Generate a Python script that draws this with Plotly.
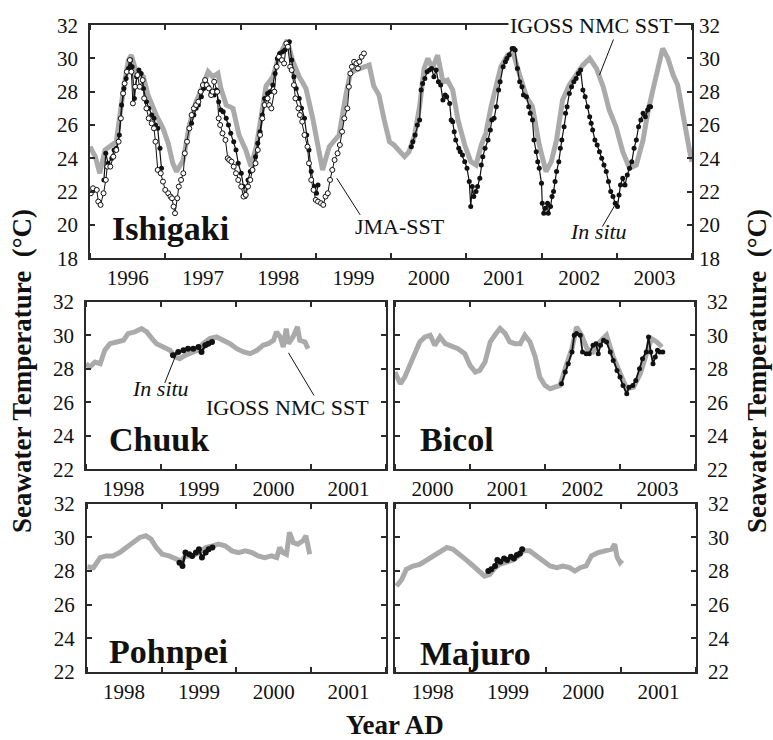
import plotly.graph_objects as go

W, H = 773, 740
SERIF = "Liberation Serif, Times New Roman, serif"
GRAY = "#aaaaaa"
INK = "#111111"
FRAME = "#2a2a2a"

# ---------------- Ishigaki (1996-2003) ----------------
ish_igoss_t = [1996.00, 1996.07, 1996.13, 1996.20, 1996.29, 1996.35, 1996.44, 1996.51, 1996.55, 1996.62,
               1996.71, 1996.77, 1996.88, 1996.97, 1997.04, 1997.10, 1997.15, 1997.24, 1997.32, 1997.41,
               1997.50, 1997.57, 1997.63, 1997.70, 1997.74, 1997.81, 1997.90, 1997.98, 1998.07, 1998.14,
               1998.21, 1998.27, 1998.34, 1998.43, 1998.51, 1998.62, 1998.69, 1998.78, 1998.87, 1998.96,
               1999.04, 1999.09, 1999.18, 1999.26, 1999.31, 1999.40, 1999.46, 1999.53, 1999.64, 1999.71,
               1999.77, 1999.84, 1999.91, 1999.98, 2000.04, 2000.11, 2000.18, 2000.24, 2000.31, 2000.38,
               2000.44, 2000.49, 2000.55, 2000.62, 2000.69, 2000.75, 2000.82, 2000.89, 2000.98, 2001.06,
               2001.13, 2001.20, 2001.26, 2001.33, 2001.40, 2001.46, 2001.55, 2001.62, 2001.71, 2001.80,
               2001.88, 2001.97, 2002.06, 2002.13, 2002.20, 2002.28, 2002.37, 2002.46, 2002.55, 2002.64,
               2002.73, 2002.82, 2002.90, 2002.99, 2003.08, 2003.17, 2003.26, 2003.35, 2003.41, 2003.48,
               2003.55, 2003.61, 2003.68, 2003.75, 2003.81, 2003.88, 2003.97, 2004.00]
ish_igoss_v = [24.7, 24.1, 23.1, 24.5, 24.8, 25.0, 28.0, 29.9, 30.2, 29.1,
               28.9, 27.8, 26.6, 25.8, 24.9, 23.7, 23.2, 23.9, 26.0, 27.4,
               28.35, 29.2, 28.9, 29.1, 28.2, 27.2, 27.0, 25.4, 24.5, 23.5,
               24.7, 26.2, 28.35, 28.9, 30.1, 31.1, 29.9, 28.9, 28.2, 26.4,
               24.3, 23.3, 24.7, 25.2, 25.4, 27.8, 29.1, 29.3, 29.5, 29.6,
               28.35, 27.8, 26.3, 25.0, 24.8, 24.4, 24.1, 24.4, 25.3, 27.1,
               29.4, 30.0, 29.4, 30.2, 28.6, 28.7, 28.1, 26.3, 24.8, 23.8,
               23.6, 24.8, 25.5, 27.1, 28.4, 29.5, 30.2, 30.4, 29.0, 27.7,
               27.1, 24.8, 23.2, 23.8, 25.1, 27.5, 28.4, 29.0, 29.6, 30.0,
               29.4, 28.3, 26.9, 25.9, 24.4, 23.4, 23.6, 25.1, 26.7, 28.1,
               29.6, 30.6, 30.0, 29.0, 28.4, 26.5, 24.4, 23.8]

ish_jma_t = [1996.01, 1996.04, 1996.09, 1996.11, 1996.14, 1996.18, 1996.21, 1996.23, 1996.27, 1996.31,
             1996.35, 1996.38, 1996.41, 1996.44, 1996.46, 1996.49, 1996.53, 1996.55, 1996.57, 1996.60,
             1996.63, 1996.66, 1996.70, 1996.72, 1996.75, 1996.78, 1996.82, 1996.85, 1996.87, 1996.90,
             1996.94, 1996.97, 1997.00, 1997.04, 1997.07, 1997.09, 1997.11, 1997.13, 1997.16, 1997.18,
             1997.21, 1997.24, 1997.26, 1997.29, 1997.32, 1997.35, 1997.38, 1997.41, 1997.44, 1997.47,
             1997.50, 1997.53, 1997.55, 1997.58, 1997.61, 1997.63, 1997.65, 1997.69, 1997.71, 1997.73,
             1997.76, 1997.80, 1997.83, 1997.85, 1997.88, 1997.91, 1997.94, 1997.97, 1998.01, 1998.04,
             1998.07, 1998.10, 1998.13, 1998.16, 1998.20, 1998.23, 1998.26, 1998.29, 1998.32, 1998.36,
             1998.38, 1998.41, 1998.45, 1998.48, 1998.51, 1998.55, 1998.58, 1998.61, 1998.63, 1998.66,
             1998.68, 1998.71, 1998.73, 1998.77, 1998.79, 1998.82, 1998.85, 1998.89, 1998.91, 1998.94,
             1998.97, 1999.00, 1999.03, 1999.07, 1999.10, 1999.13, 1999.16, 1999.19, 1999.22, 1999.25,
             1999.29, 1999.32, 1999.35, 1999.38, 1999.42, 1999.44, 1999.46, 1999.48, 1999.51, 1999.54,
             1999.56, 1999.58, 1999.61, 1999.64]
ish_jma_v = [21.9, 22.2, 22.1, 21.4, 21.2, 21.9, 22.7, 23.5, 23.5, 24.1,
             24.5, 25.0, 26.4, 27.9, 28.5, 29.2, 29.9, 29.2, 27.3, 28.3,
             29.0, 28.3, 28.7, 27.6, 27.0, 26.4, 26.1, 25.8, 25.0, 23.3,
             23.1, 22.6, 22.1, 21.9, 21.7, 21.6, 21.1, 20.7, 21.6, 22.3,
             22.7, 23.1, 24.3, 25.0, 25.8, 26.6, 27.0, 27.2, 27.4, 28.0,
             28.4, 28.7, 28.4, 28.2, 27.8, 28.0, 28.6, 28.0, 26.4, 26.0,
             25.5, 25.1, 24.0, 23.9, 23.8, 23.5, 23.1, 22.7, 22.3, 21.7,
             21.8, 22.3, 22.7, 23.3, 23.7, 24.5, 25.4, 26.4, 27.2, 27.6,
             27.2, 27.0, 28.0, 29.5, 30.1, 29.9, 29.7, 30.9, 30.7, 29.5,
             29.3, 28.4, 27.6, 27.0, 26.6, 26.2, 25.4, 24.7, 23.7, 22.7,
             22.1, 21.5, 21.4, 21.3, 21.2, 21.7, 21.9, 22.7, 23.3, 23.9,
             24.3, 24.8, 25.6, 26.4, 27.0, 28.3, 29.1, 29.5, 29.8, 29.7,
             29.4, 29.8, 30.1, 30.3]

# in situ logger record, three deployments (None marks the gaps)
ish_situ_t = [1996.185, 1996.21, 1996.24, 1996.29, 1996.32, 1996.35, 1996.39, 1996.42, 1996.45, 1996.48,
              1996.51, 1996.54, 1996.56, 1996.59, 1996.62, 1996.65, 1996.68, 1996.71, 1996.75, 1996.78,
              1996.82, 1996.85, 1996.87, 1996.90, 1996.93, 1996.95, None,
              1997.35, 1997.38, 1997.41, 1997.44, 1997.48, 1997.51, 1997.54, 1997.57, 1997.61, 1997.65,
              1997.68, 1997.71, 1997.74, 1997.77, 1997.81, 1997.84, 1997.87, 1997.91, 1997.94, 1997.97,
              1998.01, 1998.04, 1998.06, 1998.10, 1998.13, 1998.16, 1998.20, 1998.23, 1998.26, 1998.29,
              1998.32, 1998.36, 1998.39, 1998.43, 1998.46, 1998.49, 1998.52, 1998.56, 1998.59, 1998.62,
              1998.65, 1998.68, 1998.71, 1998.74, 1998.78, 1998.81, 1998.85, 1998.88, 1998.91, 1998.94,
              1998.98, 1999.01, 1999.03, None,
              2000.27, 2000.29, 2000.32, 2000.35, 2000.38, 2000.40, 2000.42, 2000.45, 2000.48, 2000.51,
              2000.54, 2000.57, 2000.60, 2000.63, 2000.66, 2000.69, 2000.72, 2000.74, 2000.78, 2000.80,
              2000.82, 2000.84, 2000.86, 2000.90, 2000.92, 2000.95, 2000.98, 2001.01, 2001.04, 2001.06,
              2001.08, 2001.10, 2001.13, 2001.15, 2001.18, 2001.20, 2001.22, 2001.25, 2001.29, 2001.32,
              2001.34, 2001.37, 2001.40, 2001.43, 2001.45, 2001.49, 2001.52, 2001.54, 2001.57, 2001.61,
              2001.63, 2001.65, 2001.68, 2001.71, 2001.74, 2001.76, 2001.80, 2001.83, 2001.85, 2001.88,
              2001.90, 2001.93, 2001.95, 2001.97, 2002.00, 2002.01, 2002.03, 2002.05, 2002.08, 2002.09,
              2002.12, 2002.14, 2002.16, 2002.18, 2002.20, 2002.23, 2002.25, 2002.27, 2002.30, 2002.32,
              2002.34, 2002.37, 2002.40, 2002.43, 2002.46, 2002.49, 2002.52, 2002.55, 2002.58, 2002.61,
              2002.64, 2002.66, 2002.68, 2002.71, 2002.74, 2002.77, 2002.80, 2002.83, 2002.86, 2002.89,
              2002.92, 2002.95, 2002.98, 2003.01, 2003.03, 2003.05, 2003.08, 2003.11, 2003.14, 2003.17,
              2003.20, 2003.23, 2003.26, 2003.29, 2003.32, 2003.35, 2003.38, 2003.41, 2003.43, 2003.45]
ish_situ_v = [22.7, 24.3, 23.7, 24.0, 24.5, 24.6, 25.4, 27.2, 28.2, 28.8,
              29.4, 29.9, 29.5, 27.6, 28.9, 29.3, 29.1, 28.2, 27.4, 27.0,
              26.6, 26.4, 26.0, 25.8, 24.6, 23.4, None,
              26.1, 26.6, 27.0, 27.2, 27.7, 28.2, 28.5, 28.3, 27.9, 27.8,
              28.1, 27.4, 26.9, 26.8, 26.4, 26.0, 25.5, 25.0, 24.5, 23.7,
              23.1, 22.3, 21.7, 22.7, 23.2, 23.3, 24.1, 24.9, 25.6, 26.6,
              27.6, 27.9, 28.0, 28.4, 29.1, 30.0, 30.3, 30.4, 30.5, 30.9,
              31.0, 29.9, 28.9, 28.2, 27.6, 27.0, 26.4, 25.4, 24.5, 23.2,
              22.3, 21.9, 22.4, None,
              24.7, 25.0, 25.4, 26.0, 26.3, 28.1, 28.5, 28.8, 29.2, 29.3,
              29.4, 28.9, 29.3, 28.6, 28.4, 27.5, 27.8, 27.7, 27.3, 26.3,
              26.2, 25.6, 25.1, 24.6, 24.4, 24.2, 23.8, 23.4, 22.6, 21.1,
              22.3, 21.7, 22.0, 22.3, 22.8, 23.6, 24.1, 24.6, 25.1, 25.7,
              26.3, 26.4, 27.1, 28.1, 28.6, 29.5, 29.8, 30.0, 30.2, 30.6,
              30.6, 30.5, 29.4, 28.6, 28.3, 27.8, 27.7, 27.1, 26.7, 26.3,
              25.1, 24.4, 23.8, 23.4, 22.5, 21.3, 20.7, 21.0, 21.3, 20.7,
              21.1, 21.7, 22.0, 22.6, 23.2, 23.8, 24.6, 25.1, 25.9, 26.7,
              27.1, 27.9, 28.3, 28.6, 28.8, 29.1, 29.3, 28.1, 27.7, 27.1,
              26.5, 26.1, 25.7, 25.1, 24.8, 24.4, 24.0, 23.6, 23.2, 22.6,
              22.0, 21.7, 21.3, 21.1, 21.8, 22.4, 22.8, 22.4, 23.0, 23.4,
              23.8, 24.6, 25.1, 25.9, 26.3, 26.7, 26.5, 26.9, 27.1, 27.1]

# ---------------- Chuuk ----------------
chuuk_igoss_t = [1998.00, 1998.05, 1998.12, 1998.19, 1998.25, 1998.32, 1998.41, 1998.50, 1998.56, 1998.65,
                 1998.74, 1998.81, 1998.88, 1998.94, 1999.03, 1999.12, 1999.19, 1999.25, 1999.32, 1999.39,
                 1999.48, 1999.56, 1999.65, 1999.74, 1999.83, 1999.92, 2000.01, 2000.10, 2000.19, 2000.28,
                 2000.36, 2000.43, 2000.50, 2000.54, 2000.59, 2000.63, 2000.67, 2000.70, 2000.76, 2000.82,
                 2000.85, 2000.92, 2000.96]
chuuk_igoss_v = [28.3, 28.1, 28.4, 28.3, 29.1, 29.5, 29.6, 29.7, 30.1, 30.2,
                 30.4, 30.2, 29.8, 29.5, 29.3, 29.1, 28.7, 28.6, 28.8, 28.9,
                 29.1, 29.5, 29.8, 29.9, 29.7, 29.5, 29.2, 29.0, 28.9, 29.1,
                 29.4, 29.5, 29.7, 30.2, 29.9, 29.3, 30.4, 29.5, 29.9, 30.5,
                 29.7, 29.6, 29.2]
chuuk_situ_t = [1999.16, 1999.23, 1999.30, 1999.36, 1999.43, 1999.50, 1999.54, 1999.59, 1999.63, 1999.68]
chuuk_situ_v = [28.8, 29.0, 29.1, 29.2, 29.2, 29.3, 29.0, 29.4, 29.5, 29.6]

# ---------------- Bicol ----------------
bicol_igoss_t = [2000.00, 2000.07, 2000.13, 2000.20, 2000.27, 2000.33, 2000.40, 2000.47, 2000.53, 2000.60,
                 2000.67, 2000.76, 2000.84, 2000.93, 2001.00, 2001.07, 2001.13, 2001.20, 2001.27, 2001.33,
                 2001.40, 2001.47, 2001.53, 2001.60, 2001.67, 2001.73, 2001.80, 2001.87, 2001.93, 2002.00,
                 2002.07, 2002.13, 2002.20, 2002.29, 2002.36, 2002.42, 2002.49, 2002.56, 2002.64, 2002.73,
                 2002.82, 2002.91, 2003.00, 2003.09, 2003.18, 2003.27, 2003.36, 2003.42, 2003.49, 2003.56]
bicol_igoss_v = [27.8, 27.1, 27.5, 28.3, 28.9, 29.6, 29.9, 30.0, 29.4, 29.9,
                 29.5, 29.3, 29.2, 28.9, 28.2, 27.8, 27.9, 28.4, 29.6, 30.0,
                 30.4, 30.1, 29.6, 29.5, 29.5, 30.0, 29.6, 28.7, 27.5, 27.0,
                 26.8, 26.9, 27.0, 28.3, 29.2, 30.5, 30.0, 29.2, 29.0, 29.6,
                 30.0, 28.7, 27.7, 26.8, 26.9, 27.7, 29.0, 29.8, 29.6, 29.3]
bicol_situ_t = [2002.22, 2002.27, 2002.31, 2002.36, 2002.39, 2002.42, 2002.47, 2002.50, 2002.55, 2002.59,
                2002.64, 2002.68, 2002.71, 2002.74, 2002.78, 2002.82, 2002.87, 2002.91, 2002.96, 2003.00,
                2003.04, 2003.09, 2003.12, 2003.17, 2003.21, 2003.26, 2003.30, 2003.35, 2003.38, 2003.41,
                2003.44, 2003.47, 2003.50, 2003.53, 2003.57]
bicol_situ_v = [27.1, 27.8, 28.3, 29.0, 30.0, 30.1, 30.0, 29.0, 28.9, 28.9,
                29.4, 29.5, 28.9, 29.4, 29.7, 29.6, 29.0, 28.5, 27.9, 27.5,
                27.0, 26.5, 26.9, 27.0, 27.3, 28.0, 28.6, 29.0, 29.9, 29.0,
                28.3, 28.7, 29.1, 29.0, 29.0]

# ---------------- Pohnpei ----------------
pohn_igoss_t = [1998.01, 1998.09, 1998.18, 1998.26, 1998.35, 1998.44, 1998.53, 1998.62, 1998.71, 1998.79,
                1998.86, 1998.93, 1999.01, 1999.10, 1999.19, 1999.26, 1999.32, 1999.41, 1999.50, 1999.59,
                1999.68, 1999.76, 1999.85, 1999.94, 2000.03, 2000.12, 2000.21, 2000.29, 2000.38, 2000.47,
                2000.54, 2000.58, 2000.62, 2000.67, 2000.71, 2000.76, 2000.82, 2000.89, 2000.93, 2000.98]
pohn_igoss_v = [28.25, 28.2, 28.8, 28.9, 28.9, 29.1, 29.4, 29.7, 30.0, 30.1,
                29.9, 29.4, 29.0, 28.9, 28.7, 28.6, 28.9, 28.9, 29.1, 29.4,
                29.5, 29.6, 29.5, 29.2, 29.1, 29.2, 29.1, 28.9, 28.8, 28.9,
                28.8, 29.4, 29.1, 29.0, 30.3, 29.7, 29.6, 29.8, 30.1, 29.0]
pohn_situ_t = [1999.24, 1999.28, 1999.32, 1999.37, 1999.41, 1999.46, 1999.50, 1999.54, 1999.59, 1999.63, 1999.68]
pohn_situ_v = [28.5, 28.3, 29.1, 29.0, 28.9, 29.1, 29.3, 28.8, 29.1, 29.3, 29.4]

# ---------------- Majuro ----------------
maj_igoss_t = [1998.02, 1998.09, 1998.15, 1998.24, 1998.33, 1998.42, 1998.51, 1998.60, 1998.69, 1998.77,
               1998.86, 1998.95, 1999.04, 1999.13, 1999.19, 1999.26, 1999.33, 1999.39, 1999.48, 1999.57,
               1999.64, 1999.70, 1999.79, 1999.88, 1999.97, 2000.06, 2000.15, 2000.23, 2000.32, 2000.39,
               2000.46, 2000.54, 2000.61, 2000.70, 2000.79, 2000.88, 2000.92, 2000.95, 2000.99, 2001.02]
maj_igoss_v = [27.1, 27.5, 28.1, 28.3, 28.4, 28.65, 28.9, 29.1, 29.4, 29.3,
               29.0, 28.65, 28.3, 27.9, 27.7, 27.8, 28.2, 28.4, 28.5, 28.65,
               28.9, 29.2, 29.2, 28.9, 28.55, 28.3, 28.2, 28.3, 28.2, 28.0,
               28.2, 28.3, 28.9, 29.1, 29.2, 29.3, 29.6, 28.85, 28.5, 28.65]
maj_situ_t = [1999.24, 1999.28, 1999.33, 1999.36, 1999.40, 1999.45, 1999.49, 1999.54, 1999.58, 1999.62, 1999.66, 1999.69]
maj_situ_v = [28.0, 28.1, 28.3, 28.65, 28.55, 28.75, 28.65, 28.85, 28.75, 28.95, 29.05, 29.3]


def box(left, top, right, bottom):
    """Pixel box -> (x domain, y domain) in paper fractions."""
    return [left / W, right / W], [1 - bottom / H, 1 - top / H]


TICKFONT = dict(family=SERIF, size=21, color=INK)


def x_axis(dom, anchor, y0, y1):
    years = list(range(y0, y1 + 1))
    return dict(domain=dom, anchor=anchor, range=[y0, y1], fixedrange=True,
                tickmode="array", tickvals=[y + 0.5 for y in years[:-1]],
                ticktext=[str(y) for y in years[:-1]], ticks="",
                minor=dict(tickmode="array", tickvals=years, ticks="inside", ticklen=5,
                           tickwidth=1.5, tickcolor=FRAME, showgrid=False),
                showline=True, linewidth=1.6, linecolor=FRAME, mirror="ticks",
                showgrid=False, zeroline=False, tickfont=TICKFONT, ticklabelstandoff=0)


def y_axis(dom, anchor, lo, hi, side="left", labels=True):
    return dict(domain=dom, anchor=anchor, range=[lo, hi], fixedrange=True, side=side,
                tickmode="array", tickvals=list(range(lo, hi + 1, 2)),
                ticks="inside", ticklen=5, tickwidth=1.5, tickcolor=FRAME,
                showline=True, linewidth=1.6, linecolor=FRAME, mirror="ticks",
                showgrid=False, zeroline=False, showticklabels=labels,
                tickfont=TICKFONT, ticklabelstandoff=6)


fig = go.Figure()


def add_gray(t, v, xa, ya):
    fig.add_trace(go.Scatter(x=t, y=v, xaxis=xa, yaxis=ya, mode="lines",
                             line=dict(color=GRAY, width=5), hoverinfo="skip", showlegend=False))


def add_situ(t, v, xa, ya, size=5, width=1.2):
    fig.add_trace(go.Scatter(x=t, y=v, xaxis=xa, yaxis=ya, mode="lines+markers",
                             line=dict(color=INK, width=width),
                             marker=dict(color=INK, size=size, symbol="circle"),
                             connectgaps=False, hoverinfo="skip", showlegend=False))


# Ishigaki panel
add_gray(ish_igoss_t, ish_igoss_v, "x", "y")
add_situ(ish_situ_t, ish_situ_v, "x", "y")
fig.add_trace(go.Scatter(x=ish_jma_t, y=ish_jma_v, xaxis="x", yaxis="y2", mode="lines+markers",
                         line=dict(color=INK, width=1),
                         marker=dict(color="white", size=5, symbol="circle",
                                     line=dict(color=INK, width=1)),
                         hoverinfo="skip", showlegend=False))

# Western Pacific panels
add_gray(chuuk_igoss_t, chuuk_igoss_v, "x2", "y3")
add_situ(chuuk_situ_t, chuuk_situ_v, "x2", "y3", size=6, width=2.5)
add_gray(bicol_igoss_t, bicol_igoss_v, "x3", "y4")
add_situ(bicol_situ_t, bicol_situ_v, "x3", "y4", size=5, width=1.8)
add_gray(pohn_igoss_t, pohn_igoss_v, "x4", "y5")
add_situ(pohn_situ_t, pohn_situ_v, "x4", "y5", size=6, width=2.5)
add_gray(maj_igoss_t, maj_igoss_v, "x5", "y6")
add_situ(maj_situ_t, maj_situ_v, "x5", "y6", size=6, width=2.5)

dx_top, dy_top = box(90, 13.6, 692, 254.4)
dx_chu, dy_chu = box(86, 299.5, 386, 472.5)
dx_bic, dy_bic = box(395, 299.5, 695, 472.5)
dx_poh, dy_poh = box(86.7, 508.3, 386, 682)
dx_maj, dy_maj = box(395, 508.3, 696, 682)

yaxis2 = y_axis(dy_top, "x", 18, 32, side="right")
yaxis2.update(overlaying="y", showline=False, ticks="")

fig.update_layout(
    width=W, height=H, margin=dict(l=0, r=0, t=0, b=0),
    paper_bgcolor="white", plot_bgcolor="white", showlegend=False,
    xaxis=x_axis(dx_top, "y", 1996, 2004),
    yaxis=y_axis(dy_top, "x", 18, 32),
    yaxis2=yaxis2,
    xaxis2=x_axis(dx_chu, "y3", 1998, 2002),
    yaxis3=y_axis(dy_chu, "x2", 22, 32),
    xaxis3=x_axis(dx_bic, "y4", 2000, 2004),
    yaxis4=y_axis(dy_bic, "x3", 22, 32, side="right"),
    xaxis4=x_axis(dx_poh, "y5", 1998, 2002),
    yaxis5=y_axis(dy_poh, "x4", 22, 32),
    xaxis5=x_axis(dx_maj, "y6", 1998, 2002),
    yaxis6=y_axis(dy_maj, "x5", 22, 32, side="right"),
)

# leader lines from labels to the curves they name
leader = dict(color=INK, width=1)
fig.add_shape(type="line", xref="x", yref="y", x0=1999.28, y0=22.8, x1=1999.59, y1=20.6, line=leader)
fig.add_shape(type="line", xref="x", yref="y", x0=2002.77, y0=29.0, x1=2002.97, y1=31.3, line=leader)
fig.add_shape(type="line", xref="x", yref="y", x0=2003.01, y0=21.45, x1=2002.81, y1=19.9, line=leader)
fig.add_shape(type="line", xref="x2", yref="y3", x0=1999.21, y0=28.95, x1=1999.05, y1=27.15, line=leader)
fig.add_shape(type="line", xref="x2", yref="y3", x0=2000.70, y0=28.95, x1=2001.04, y1=26.4, line=leader)

label_font = dict(family=SERIF, size=22, color=INK)
name_font = dict(family=SERIF, size=34, color=INK)


def note(text, x, y, xref, yref, font, xanchor="left", **kw):
    fig.add_annotation(text=text, x=x, y=y, xref=xref, yref=yref, showarrow=False,
                       xanchor=xanchor, yanchor="middle", font=font, **kw)


note("JMA-SST", 1999.49, 19.9, "x", "y", label_font)
note("IGOSS NMC SST", 2002.67, 32.0, "x", "y", label_font, xanchor="center",
     bgcolor="white", borderpad=1)
note("<i>In situ</i>", 2002.76, 19.6, "x", "y", label_font, xanchor="center")
note("<i>In situ</i>", 1998.99, 26.8, "x2", "y3", label_font, xanchor="center")
note("IGOSS NMC SST", 2000.69, 25.7, "x2", "y3", label_font, xanchor="center")

note("<b>Ishigaki</b>", 1996.27, 19.8, "x", "y", name_font)
note("<b>Chuuk</b>", 1998.28, 23.75, "x2", "y3", name_font)
note("<b>Bicol</b>", 2000.31, 23.8, "x3", "y4", name_font)
note("<b>Pohnpei</b>", 1998.27, 23.2, "x4", "y5", name_font)
note("<b>Majuro</b>", 1998.31, 23.1, "x5", "y6", name_font)

title_font = dict(family=SERIF, size=27, color=INK)
ytitle = "<b>Seawater Temperature  (°C)</b>"
note(ytitle, 22 / W, 1 - 371 / H, "paper", "paper", title_font, xanchor="center", textangle=-90)
note(ytitle, 757 / W, 1 - 371 / H, "paper", "paper", title_font, xanchor="center", textangle=-90)
note("<b>Year AD</b>", 395 / W, 1 - 737 / H, "paper", "paper", title_font, xanchor="center")

fig.write_html("out.html")
